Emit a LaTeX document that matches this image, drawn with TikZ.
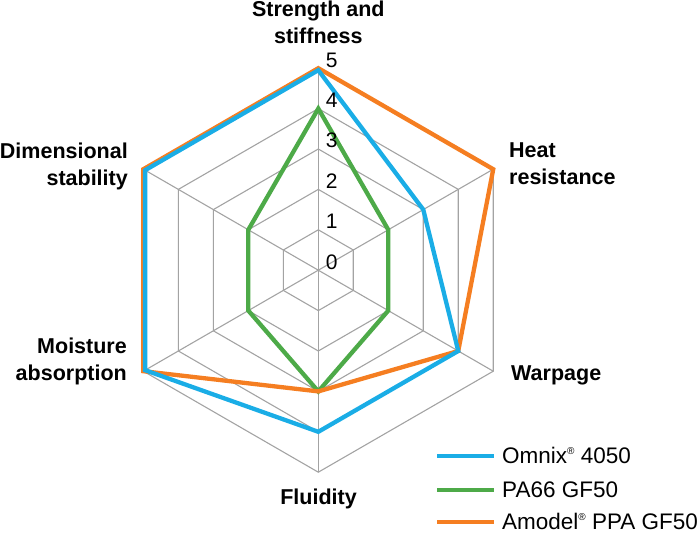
\documentclass[tikz,border=0pt]{standalone}
\usepackage{fontspec}
\setmainfont{Liberation Sans}
\usetikzlibrary{calc}
\definecolor{cblue}{HTML}{1AADE6}
\definecolor{cgreen}{HTML}{4DAA48}
\definecolor{corange}{HTML}{F57E21}
\definecolor{cgrid}{HTML}{A3A3A3}
\newcommand\myreg{\raisebox{0.42em}{\fontsize{10}{10}\selectfont ®}}
\begin{document}
\begin{tikzpicture}[x=1pt,y=1pt,
  gridline/.style={draw=cgrid,line width=1.1pt},
  series/.style={line width=4.3pt,line join=miter,miter limit=20},
  axislbl/.style={font=\fontsize{21.5}{27}\selectfont\bfseries,inner sep=0pt},
  ringlbl/.style={font=\fontsize{21}{21}\selectfont,inner sep=0pt,anchor=center},
  legtext/.style={font=\fontsize{22.5}{22.5}\selectfont,inner sep=0pt,anchor=base west},
  legline/.style={line width=4pt}]
\useasboundingbox (0,0) rectangle (700,532);
\coordinate (C) at (318.3,261.8);
\def\u{40.4}
\begin{scope}[shift={(C)}]
  % rings
  \foreach \k in {1,...,5}
    \draw[gridline] (90:\k*\u) -- (30:\k*\u) -- (-30:\k*\u) -- (-90:\k*\u) -- (210:\k*\u) -- (150:\k*\u) -- cycle;
  % spokes
  \foreach \a in {90,30,-30,-90,210,150}
    \draw[gridline] (0,0) -- (\a:5*\u);
  % series
  \draw[series,cgreen] (90:4*\u) -- (30:2*\u) -- (-30:2*\u) -- (-90:3*\u) -- (210:2*\u) -- (150:2*\u) -- cycle;
  \draw[series,corange] (90:5*\u) -- (30:5*\u) -- (-30:4*\u) -- (-90:3*\u) -- (210:5*\u) -- (150:5*\u) -- cycle;
  \draw[series,cblue] (90:4.95*\u) -- (30:3*\u) -- (-30:4*\u) -- (-90:4*\u) -- (210:4.95*\u) -- (150:4.95*\u) -- cycle;
  % ring numbers
  \foreach \k in {0,...,5}
    \node[ringlbl] (r\k) at (13.4,{\k*\u+8.3}) {\k};
\end{scope}
% axis labels (base anchor = baseline of last line)
\node[axislbl,anchor=base,align=center] (strength) at (318.3,488) {Strength and\\stiffness};
\node[axislbl,anchor=base west,align=left] (heat) at (509,347) {Heat\\resistance};
\node[axislbl,anchor=base west] (warp) at (511,151) {Warpage};
\node[axislbl,anchor=base] (fluid) at (318.5,28) {Fluidity};
\node[axislbl,anchor=base east,align=right] (moist) at (127,151.5) {Moisture\\absorption};
\node[axislbl,anchor=base east,align=right] (dimen) at (128,346) {Dimensional\\stability};
% legend
\coordinate (l1a) at (437,76); \coordinate (l1b) at (494,76);
\coordinate (l2a) at (437,42); \coordinate (l2b) at (494,42);
\coordinate (l3a) at (437,10); \coordinate (l3b) at (494,10);
\draw[legline,cblue] (l1a) -- (l1b);
\draw[legline,cgreen] (l2a) -- (l2b);
\draw[legline,corange] (l3a) -- (l3b);
\node[legtext] (t1) at (502,68) {Omnix\myreg\ 4050};
\node[legtext] (t2) at (502,34.5) {PA66 GF50};
\node[legtext] (t3) at (502,2.5) {Amodel\myreg\ PPA GF50};
\end{tikzpicture}
\end{document}
